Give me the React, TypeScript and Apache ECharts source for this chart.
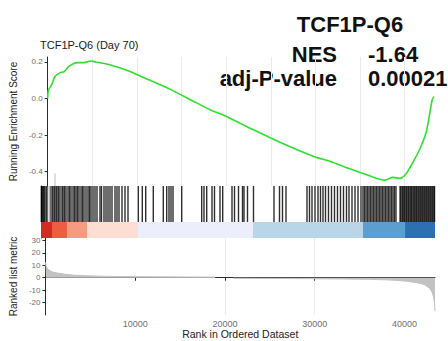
import React, { useEffect, useRef } from 'react';
import * as echarts from 'echarts';

// Running enrichment score curve: [rank, ES]
const esPoints: [number, number][] = [
  [0, 0.0], [80, 0.045], [440, 0.074], [800, 0.119], [1350, 0.14], [1870, 0.147],
  [2270, 0.172], [2820, 0.189], [3370, 0.196], [4070, 0.196], [4840, 0.205],
  [5380, 0.2], [6480, 0.19], [7580, 0.175], [9010, 0.152], [10880, 0.112],
  [13850, 0.047], [16050, -0.008], [18240, -0.063], [19670, -0.09], [23000, -0.17],
  [26270, -0.245], [29900, -0.319], [31760, -0.346], [33630, -0.381], [35830, -0.419],
  [37800, -0.447], [38690, -0.432], [39450, -0.437], [40190, -0.41], [40880, -0.353],
  [41650, -0.282], [42390, -0.189], [42750, -0.1], [43080, -0.008], [43300, 0.01],
];

// Ranks of the gene-set hits (barcode)
const hitRanks: number[] = [
  30, 55, 165, 275, 386, 551, 661, 991, 1212, 1322, 1487, 1652, 1762, 1928, 2093,
  2313, 2423, 2589, 2754, 2974, 3139, 3305, 3525, 3690, 3855, 4020, 4186, 4406,
  4571, 4736, 4957, 5177, 5342, 5508, 5728, 5948, 6168, 6499, 6664, 6939, 7160,
  7380, 7600, 7821, 8151, 8371, 8592, 8922, 9253, 9583,
  10718, 11158, 11533, 12370, 13471, 13846, 14099, 14320, 14540, 15498, 17701,
  17954, 18252, 18836, 19111, 19717, 20014, 21039, 21315, 21755, 22196, 22361,
  22746, 23407,
  25665, 26271, 26601, 26987, 29300, 29575, 29851, 30181, 30512, 30787, 31062,
  31338, 31668, 31999, 32329, 32659, 32990, 33320, 33651, 33926, 34257, 34587,
  34918, 35248,
  35468, 35634, 35799, 35964, 36129, 36294, 36460, 36625, 36790, 36955, 37121,
  37286, 37451, 37616, 37781, 37947, 38112, 38277, 38442, 38607, 38773, 38938, 39103,
  39550, 39640, 39780, 39870, 39990, 40080, 40210, 40300, 40430, 40520, 40650,
  40760, 40850, 40980, 41090, 41190, 41310, 41400, 41530, 41630, 41750, 41850,
  41970, 42070, 42190, 42290, 42410, 42510, 42630, 42730, 42850, 42950, 43070,
  43170, 43290, 43360,
];

// Ranked list metric: [rank, metric]
const metricPoints: [number, number | null][] = [
  [1, 12.5], [60, 10], [150, 8.3], [400, 6], [800, 4.6], [1300, 3.8], [2200, 2.8],
  [3300, 2.0], [5000, 1.5], [7000, 1.1], [10000, 0.85], [13000, 0.7], [16000, 0.6],
  [18900, 0.5], [19300, null], [20700, null], [20900, -0.5], [25000, -0.6],
  [29500, -0.7], [30000, -0.85], [33000, -1.0], [36000, -1.3], [38000, -1.7],
  [39500, -2.3], [40500, -3.0], [41500, -4.2], [42200, -5.5], [42800, -8.5],
  [43100, -12], [43250, -16], [43350, -21], [43400, -27],
];

// Heat strip segments
const stripStarts = [0, 1210, 2860, 5070, 10690, 23350, 35470, 40100];
const stripEnds = [1210, 2860, 5070, 10690, 23350, 35470, 40100, 43400];
const stripColors = ['#D22B26', '#EE5C44', '#F49B81', '#FCDFD2', '#ECEFFB', '#B9D6E8', '#5C9ED0', '#2D6FAF'];

const esTicks = [-0.4, -0.2, 0, 0.2];
const metricTicks = [-20, -10, 0, 10, 20, 30];
const rankTicks = [10000, 20000, 30000, 40000];
const grayLineRank = 830;

const FONT = "'Liberation Sans', Arial, Helvetica, sans-serif";
const X_MAX = 43400;
const AXIS_COLOR = '#2b2b2b';
const LABEL_COLOR = '#707070';
const GRID_COLOR = '#EBEBEB';
const LEFT = 41;
const RIGHT = 13;

export default function App() {
  const ref = useRef<HTMLDivElement>(null);
  useEffect(() => {
    if (!ref.current) return;
    const chart = echarts.init(ref.current, undefined, { renderer: 'svg' });
    const option: any = {
      animation: false,
      textStyle: { fontFamily: FONT },
      grid: [
        { left: LEFT, right: RIGHT, top: 57, height: 129 },
        { left: LEFT, right: RIGHT, top: 186, height: 36 },
        { left: LEFT, right: RIGHT, top: 222, height: 16 },
        { left: LEFT, right: RIGHT, top: 238, height: 77 },
      ],
      xAxis: [
        {
          gridIndex: 0, type: 'value', min: 0, max: X_MAX, interval: 5000,
          axisLine: { show: false }, axisTick: { show: false }, axisLabel: { show: false },
          splitLine: { show: true, showMinLine: false, showMaxLine: false, lineStyle: { color: GRID_COLOR, width: 1 } },
        },
        { gridIndex: 1, type: 'value', min: 0, max: X_MAX, show: false },
        { gridIndex: 2, type: 'value', min: 0, max: X_MAX, show: false },
        {
          gridIndex: 3, type: 'value', min: 0, max: X_MAX, interval: 5000,
          axisLine: { show: true, lineStyle: { color: AXIS_COLOR, width: 1 } },
          axisTick: { show: true, length: 3, customValues: rankTicks, lineStyle: { color: AXIS_COLOR } },
          axisLabel: {
            show: true, customValues: rankTicks, color: LABEL_COLOR, fontSize: 9, margin: 4, fontFamily: FONT,
            formatter: (v: number) => String(Math.round(v)),
          },
          splitLine: { show: true, showMinLine: false, showMaxLine: false, lineStyle: { color: GRID_COLOR, width: 1 } },
          name: 'Rank in Ordered Dataset', nameLocation: 'middle', nameGap: 13,
          nameTextStyle: { fontSize: 10.5, color: '#222', fontFamily: FONT },
        },
      ],
      yAxis: [
        {
          gridIndex: 0, type: 'value', min: -0.479, max: 0.227,
          axisLine: { show: true, lineStyle: { color: AXIS_COLOR, width: 1 } },
          axisTick: { show: true, length: 3, customValues: esTicks, lineStyle: { color: AXIS_COLOR } },
          axisLabel: {
            show: true, customValues: esTicks, color: LABEL_COLOR, fontSize: 8, margin: 5, fontFamily: FONT,
            formatter: (v: number) => Number(v).toFixed(1),
          },
          splitLine: { show: false },
          name: 'Running Enrichment Score', nameLocation: 'middle', nameGap: 21,
          nameTextStyle: { fontSize: 10, color: '#222', fontFamily: FONT },
        },
        {
          gridIndex: 1, type: 'value', min: 0, max: 1,
          axisLine: { show: true, lineStyle: { color: AXIS_COLOR, width: 1 } },
          axisTick: { show: false }, axisLabel: { show: false }, splitLine: { show: false },
        },
        {
          gridIndex: 2, type: 'value', min: 0, max: 1,
          axisLine: { show: true, lineStyle: { color: AXIS_COLOR, width: 1 } },
          axisTick: { show: false }, axisLabel: { show: false }, splitLine: { show: false },
        },
        {
          gridIndex: 3, type: 'value', min: -30, max: 32,
          axisLine: { show: true, lineStyle: { color: AXIS_COLOR, width: 1 } },
          axisTick: { show: true, length: 3, customValues: metricTicks, lineStyle: { color: AXIS_COLOR } },
          axisLabel: { show: true, customValues: metricTicks, color: LABEL_COLOR, fontSize: 8, margin: 5, fontFamily: FONT },
          splitLine: { show: false },
          name: 'Ranked list metric', nameLocation: 'middle', nameGap: 21,
          nameTextStyle: { fontSize: 10, color: '#222', fontFamily: FONT },
        },
      ],
      series: [
        {
          type: 'line', xAxisIndex: 0, yAxisIndex: 0, data: esPoints,
          showSymbol: false, smooth: 0.25, silent: true, z: 5,
          lineStyle: { color: '#2FE02F', width: 1.6 },
          markLine: {
            silent: true, symbol: ['none', 'none'], label: { show: false },
            lineStyle: { color: '#d2d2d2', width: 1.5, type: 'solid' },
            data: [[{ coord: [grayLineRank, -0.41] }, { coord: [grayLineRank, -0.479] }]],
          },
        },
        {
          type: 'bar', xAxisIndex: 1, yAxisIndex: 1,
          data: hitRanks.map((r) => [r, 1]),
          barWidth: 1.4, silent: true,
          itemStyle: { color: 'rgba(0,0,0,0.82)' },
          markLine: {
            silent: true, symbol: ['none', 'none'], label: { show: false },
            lineStyle: { color: '#d2d2d2', width: 1.5, type: 'solid' },
            data: [{ xAxis: grayLineRank }],
          },
        },
        {
          type: 'custom', xAxisIndex: 2, yAxisIndex: 2, silent: true,
          data: stripStarts.map((s, i) => [s, stripEnds[i]]),
          encode: { x: [0, 1] },
          renderItem: (params: any, api: any) => {
            const p0 = api.coord([api.value(0), 1]);
            const p1 = api.coord([api.value(1), 0]);
            return {
              type: 'rect',
              shape: { x: p0[0], y: p0[1], width: p1[0] - p0[0], height: p1[1] - p0[1] },
              style: { fill: stripColors[params.dataIndex] },
            };
          },
        },
        {
          type: 'line', xAxisIndex: 3, yAxisIndex: 3, data: metricPoints,
          showSymbol: false, silent: true, connectNulls: false,
          lineStyle: { color: '#C2C2C2', width: 1 },
          areaStyle: { color: '#C2C2C2', opacity: 1 },
        },
      ],
      graphic: [
        {
          type: 'text', x: 40, y: 45, silent: true,
          style: { text: 'TCF1P-Q6 (Day 70)', fill: '#1a1a1a', fontSize: 11, fontFamily: FONT, align: 'left', verticalAlign: 'middle' },
        },
        {
          type: 'text', x: 350, y: 24.5, silent: true,
          style: { text: 'TCF1P-Q6', fill: '#111', fontSize: 22, fontWeight: 'bold', fontFamily: FONT, align: 'center', verticalAlign: 'middle' },
        },
        {
          type: 'text', x: 337, y: 54.2, silent: true,
          style: { text: 'NES', fill: '#111', fontSize: 22, fontWeight: 'bold', fontFamily: FONT, align: 'right', verticalAlign: 'middle' },
        },
        {
          type: 'text', x: 368, y: 54.2, silent: true,
          style: { text: '-1.64', fill: '#111', fontSize: 22, fontWeight: 'bold', fontFamily: FONT, align: 'left', verticalAlign: 'middle' },
        },
        {
          type: 'text', x: 337, y: 78, silent: true,
          style: { text: 'adj-P-value', fill: '#111', fontSize: 22, fontWeight: 'bold', fontFamily: FONT, align: 'right', verticalAlign: 'middle' },
        },
        {
          type: 'text', x: 368, y: 78, silent: true,
          style: { text: '0.00021', fill: '#111', fontSize: 22, fontWeight: 'bold', fontFamily: FONT, align: 'left', verticalAlign: 'middle' },
        },
      ],
    };
    chart.setOption(option);
    return () => chart.dispose();
  }, []);
  return <div ref={ref} style={{ position: 'fixed', left: 0, top: 0, width: 448, height: 341, background: '#fff' }} />;
}
